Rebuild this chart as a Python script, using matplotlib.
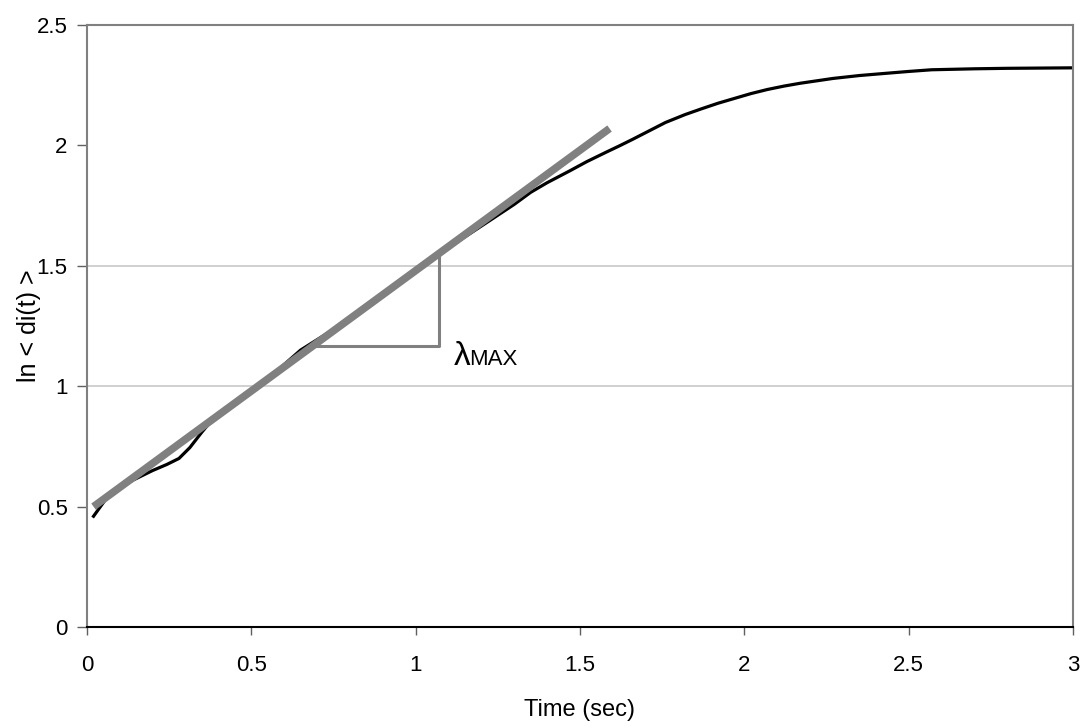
import numpy as np
import matplotlib.pyplot as plt

plt.rcParams['font.family'] = ['Liberation Sans', 'DejaVu Sans']

# measured divergence curve ln<di(t)>
time_sec = [0.02, 0.07, 0.14, 0.20, 0.243, 0.28, 0.313, 0.35, 0.384, 0.45,
            0.55, 0.65, 0.72, 0.80, 0.90, 1.00, 1.10, 1.20, 1.30, 1.35,
            1.40, 1.47, 1.52, 1.58, 1.62, 1.66, 1.71, 1.76, 1.82, 1.87,
            1.92, 1.97, 2.02, 2.07, 2.12, 2.17, 2.22, 2.27, 2.35, 2.42,
            2.50, 2.57, 2.70, 2.80, 2.90, 3.00]
ln_div = [0.46, 0.555, 0.61, 0.65, 0.675, 0.70, 0.745, 0.81, 0.865, 0.93,
          1.03, 1.15, 1.21, 1.28, 1.38, 1.48, 1.575, 1.665, 1.755, 1.805,
          1.845, 1.895, 1.932, 1.972, 1.998, 2.025, 2.06, 2.095, 2.128, 2.152,
          2.175, 2.195, 2.215, 2.232, 2.246, 2.258, 2.268, 2.278, 2.29, 2.298,
          2.307, 2.314, 2.318, 2.32, 2.321, 2.322]

# linear fit line (slope = lambda max)
fit_t = [0.02, 1.59]
fit_y = [0.50, 2.07]

# slope triangle corners
tri_t = [0.69, 1.07, 1.07]
tri_y = [1.165, 1.165, 1.555]

label_pos = (1.117, 1.088)
grid_levels = [1.0, 1.5]

fig = plt.figure(figsize=(10.91, 7.28), dpi=100)
ax = fig.add_axes([0.0797, 0.1387, 0.9038, 0.827])

for g in grid_levels:
    ax.axhline(g, color='#c8c8c8', linewidth=1.2, zorder=0)

ax.plot(time_sec, ln_div, color='black', linewidth=2.3, zorder=2)
ax.plot(fit_t, fit_y, color='#808080', linewidth=5.5, solid_capstyle='butt', zorder=3)
ax.plot(tri_t, tri_y, color='#808080', linewidth=2.2, zorder=3)

ax.text(label_pos[0], label_pos[1], 'λ', fontsize=24, va='baseline', ha='left')
ax.annotate('MAX', xy=label_pos, xytext=(11, 0), textcoords='offset points',
            fontsize=16, va='baseline', ha='left')

ax.set_xlim(0, 3)
ax.set_ylim(0, 2.5)
ax.set_xticks([0, 0.5, 1, 1.5, 2, 2.5, 3])
ax.set_xticklabels(['0', '0.5', '1', '1.5', '2', '2.5', '3'])
ax.set_yticks([0, 0.5, 1, 1.5, 2, 2.5])
ax.set_yticklabels(['0', '0.5', '1', '1.5', '2', '2.5'])

for side in ['left', 'top', 'right']:
    ax.spines[side].set_color('#808080')
    ax.spines[side].set_linewidth(1.5)
ax.spines['bottom'].set_color('black')
ax.spines['bottom'].set_linewidth(1.5)

ax.tick_params(axis='x', direction='out', length=6, width=1, color='#606060',
               labelsize=16, pad=14)
ax.tick_params(axis='y', direction='out', length=7, width=1, color='#606060',
               labelsize=16, pad=7)

ax.set_xlabel('Time (sec)', fontsize=17, labelpad=17)
ax.set_ylabel('ln < di(t) >', fontsize=18, labelpad=-3)

fig.savefig('out.png', dpi=100)
